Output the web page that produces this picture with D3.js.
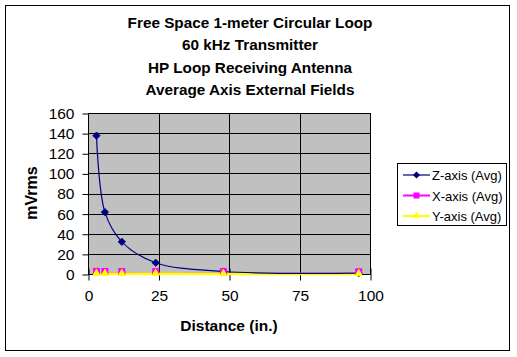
<!DOCTYPE html>
<html><head><meta charset="utf-8">
<script src="https://cdn.jsdelivr.net/npm/d3@7"></script>
<style>body{margin:0;background:#fff}svg{display:block}text{font-family:"Liberation Sans",Arial,sans-serif}</style>
</head><body>
<script>
const distances = [3, 6, 12, 24, 48, 96];
const zAvg = [137.5, 61.5, 32, 11.2, 2.5, 0.8];
const xAvg = [0.6, 0.5, 0.4, 0.3, 0.3, 0.2];
const yAvg = [0.3, 0.3, 0.2, 0.2, 0.1, 0.1];
const xTicks = [0, 25, 50, 75, 100];
const yTicks = [0, 20, 40, 60, 80, 100, 120, 140, 160];
const titleLines = ["Free Space 1-meter Circular Loop", "60 kHz Transmitter", "HP Loop Receiving Antenna", "Average Axis External Fields"];
const seriesNames = ["Z-axis (Avg)", "X-axis (Avg)", "Y-axis (Avg)"];

const W = 517, H = 357;
const svg = d3.select("body").append("svg").attr("width", W).attr("height", H);
svg.append("rect").attr("x", 5.5).attr("y", 5.5).attr("width", 504).attr("height", 345)
  .attr("fill", "#fff").attr("stroke", "#000").attr("stroke-width", 1);

const L = 88, R = 370, T = 113, B = 274;
const x = d3.scaleLinear().domain([0, 100]).range([L, R]);
const y = d3.scaleLinear().domain([0, 160]).range([B, T]);

svg.append("rect").attr("x", L).attr("y", T).attr("width", R - L).attr("height", B - T).attr("fill", "#C0C0C0");

const g = svg.append("g");
g.selectAll("line.hg").data(yTicks).join("line")
  .attr("x1", L).attr("x2", R).attr("y1", d => Math.round(y(d)) + 0.5).attr("y2", d => Math.round(y(d)) + 0.5)
  .attr("stroke", "#000");
g.selectAll("line.vg").data(xTicks).join("line")
  .attr("y1", T).attr("y2", B).attr("x1", d => Math.round(x(d)) + 0.5).attr("x2", d => Math.round(x(d)) + 0.5)
  .attr("stroke", "#000");

// axes
const xAxis = d3.axisBottom(x).tickValues(xTicks).tickSize(6).tickPadding(9);
const yAxis = d3.axisLeft(y).tickValues(yTicks).tickSize(6).tickPadding(8);
const gx = svg.append("g").attr("transform", `translate(0.5,${B + 0.5})`).call(xAxis);
const gy = svg.append("g").attr("transform", `translate(${L + 0.5},0.5)`).call(yAxis);
[gx, gy].forEach(a => {
  a.select(".domain").remove();
  a.selectAll("text").attr("font-size", 15.5).attr("font-family", "Liberation Sans, Arial, sans-serif").attr("fill", "#000");
  a.selectAll("line").attr("stroke", "#000");
});
gx.append("line").attr("x1", L).attr("x2", R).attr("stroke", "#000");
gx.selectAll(".tick line").attr("y1", -6).attr("y2", 6);
gy.selectAll(".tick line").attr("x1", -6).attr("x2", 0);

// series
const zLine = d3.line().x((d, i) => x(distances[i])).y(d => y(d)).curve(d3.curveCatmullRom.alpha(0.5));
const line = d3.line().x((d, i) => x(distances[i])).y(d => y(d));

svg.append("path").datum(xAvg).attr("d", line).attr("fill", "none").attr("stroke", "#FF00FF").attr("stroke-width", 2);
svg.append("path").datum(yAvg).attr("d", line).attr("fill", "none").attr("stroke", "#FFFF00").attr("stroke-width", 2.5);
svg.append("path").datum(zAvg).attr("d", zLine).attr("fill", "none").attr("stroke", "#000080").attr("stroke-width", 1.2);

const diamond = (cx, cy, s) => `M${cx},${cy - s}L${cx + s},${cy}L${cx},${cy + s}L${cx - s},${cy}Z`;
const tri = (cx, cy, s) => `M${cx},${cy - s}L${cx + s},${cy + s * 0.8}L${cx - s},${cy + s * 0.8}Z`;

svg.append("g").selectAll("path").data(zAvg).join("path")
  .attr("d", (d, i) => diamond(x(distances[i]), y(d), 3.6)).attr("fill", "#000080").attr("stroke", "#000080");
svg.append("g").selectAll("rect").data(xAvg).join("rect")
  .attr("x", (d, i) => x(distances[i]) - 3).attr("y", d => y(d) - 5).attr("width", 6).attr("height", 6)
  .attr("fill", "#FF00FF").attr("stroke", "#FF00FF");
svg.append("g").selectAll("path").data(yAvg).join("path")
  .attr("d", (d, i) => tri(x(distances[i]), y(d) - 1, 3.5)).attr("fill", "#FFFF00").attr("stroke", "#FFFF00");

// title
svg.append("g").selectAll("text").data(titleLines).join("text")
  .attr("x", 250).attr("y", (d, i) => 28 + i * 22.3).attr("text-anchor", "middle")
  .attr("font-size", 15.3).attr("font-weight", "bold").text(d => d);

svg.append("text").attr("transform", "translate(37,193) rotate(-90)").attr("text-anchor", "middle")
  .attr("font-size", 16).attr("font-weight", "bold").text("mVrms");
svg.append("text").attr("x", 229).attr("y", 331).attr("text-anchor", "middle")
  .attr("font-size", 15.5).attr("font-weight", "bold").text("Distance (in.)");

// legend
const lg = svg.append("g");
lg.append("rect").attr("x", 397.5).attr("y", 163.5).attr("width", 109).attr("height", 62).attr("fill", "#fff").attr("stroke", "#000");
const colors = ["#000080", "#FF00FF", "#FFFF00"];
seriesNames.forEach((n, i) => {
  const yy = 175 + i * 20.5;
  lg.append("line").attr("x1", 403).attr("x2", 430).attr("y1", yy).attr("y2", yy).attr("stroke", colors[i]).attr("stroke-width", i === 0 ? 1.2 : 2);
  if (i === 0) lg.append("path").attr("d", diamond(416.5, yy, 3.6)).attr("fill", colors[0]);
  if (i === 1) lg.append("rect").attr("x", 413.5).attr("y", yy - 3).attr("width", 6).attr("height", 6).attr("fill", colors[1]);
  if (i === 2) lg.append("path").attr("d", tri(416.5, yy - 1, 3.5)).attr("fill", colors[2]);
  lg.append("text").attr("x", 432).attr("y", yy + 5).attr("font-size", 13).text(n);
});
</script>
</body></html>
